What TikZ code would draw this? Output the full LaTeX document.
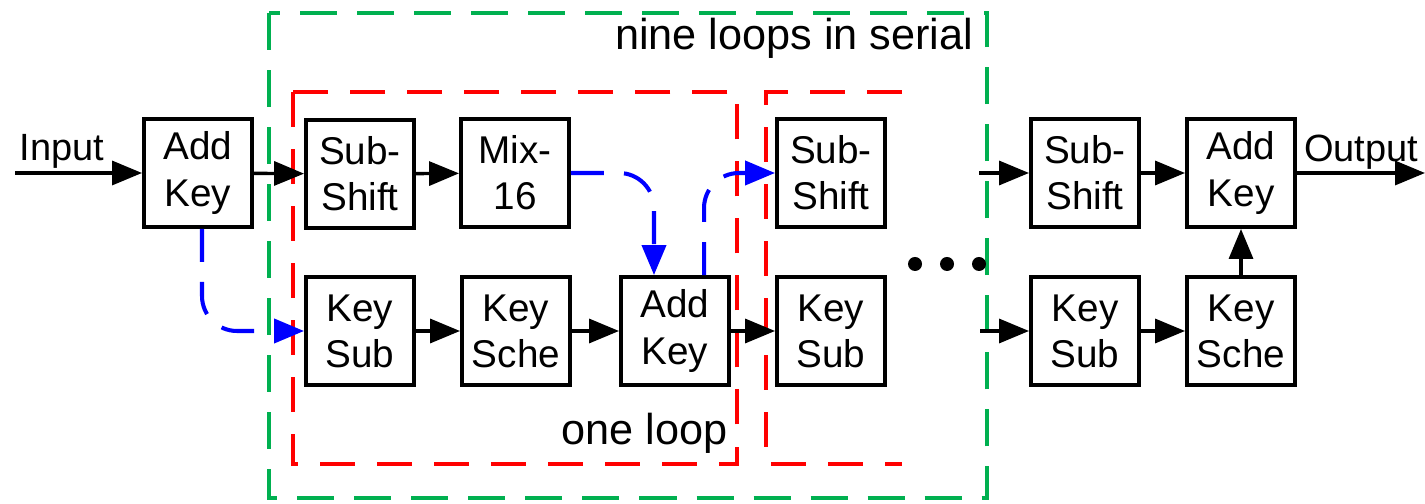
\documentclass[tikz,border=0pt]{standalone}
\usepackage{fontspec}
\setmainfont{Liberation Sans}
\usetikzlibrary{arrows.meta}

\definecolor{sergreen}{RGB}{0,176,80}

\tikzset{
  blk/.style={draw, line width=1.1pt, minimum width=1.08cm, minimum height=1.08cm,
    inner sep=0pt, align=center, font=\fontsize{11}{13.1}\selectfont},
  arr/.style={line width=0.95pt, -{Triangle[length=8.5pt,width=6.8pt]}},
  keyline/.style={arr, blue, line width=1.15pt, dash pattern=on 0.33cm off 0.2cm,
    rounded corners=0.35cm},
  lbl/.style={inner sep=0pt, font=\fontsize{10.8}{13.1}\selectfont},
  biglbl/.style={inner sep=0pt, font=\fontsize{12.3}{14}\selectfont},
  loopbox/.style={red, line width=1.1pt, dash pattern=on 0.35cm off 0.22cm},
  serialbox/.style={sergreen, line width=1.1pt, dash pattern=on 0.37cm off 0.2cm}
}

\begin{document}
\begin{tikzpicture}[x=0.01cm, y=-0.01cm]
  \useasboundingbox (0,0) rectangle (1425,504);

  % frames
  \draw[serialbox] (269,13) rectangle (987,498);
  \draw[loopbox] (293,92) rectangle (737,464);
  \draw[loopbox] (902,92) -- (766,92) -- (766,464) -- (902,464);
  \node[biglbl, anchor=base east] (serial) at (974,50) {nine loops in serial};
  \node[biglbl, anchor=base east] (oneloop) at (728,445) {one loop};

  % blocks
  \node[blk] (ak1) at (198,173) {Add\\Key};
  \node[blk] (ss1) at (360,174) {Sub-\\Shift};
  \node[blk] (mx) at (515,173) {Mix-\\16};
  \node[blk] (ks1) at (360,331) {Key\\Sub};
  \node[blk] (sc1) at (516,331) {Key\\Sche};
  \node[blk] (ak2) at (675,331) {Add\\Key};
  \node[blk] (ss2) at (831,173) {Sub-\\Shift};
  \node[blk] (ks2) at (831,331) {Key\\Sub};
  \node[blk] (ss3) at (1085,173) {Sub-\\Shift};
  \node[blk] (ks3) at (1085,331) {Key\\Sub};
  \node[blk] (ak3) at (1241,173) {Add\\Key};
  \node[blk] (sc3) at (1241,331) {Key\\Sche};

  % free ends
  \coordinate (in) at (15,173);
  \coordinate (out) at (1425,173);
  \coordinate (st1) at (979,173);
  \coordinate (st2) at (980,331);
  \node[lbl, anchor=base] (inlbl) at (62,161) {Input};
  \node[lbl, anchor=base] (outlbl) at (1361,162) {Output};

  % data path
  \draw[arr] (in) -- (ak1);
  \draw[arr] (ak1) -- (ss1);
  \draw[arr] (ss1) -- (mx);
  \draw[arr] (ks1) -- (sc1);
  \draw[arr] (sc1) -- (ak2);
  \draw[arr] (ak2) -- (ks2);
  \draw[arr] (st1) -- (ss3);
  \draw[arr] (st2) -- (ks3);
  \draw[arr] (ss3) -- (ak3);
  \draw[arr] (ks3) -- (sc3);
  \draw[arr] (sc3) -- (ak3);
  \draw[arr] (ak3) -- (out);

  % key paths
  \draw[keyline] ([xshift=0.04cm]ak1.south) |- (ks1.west);
  \draw[keyline] (mx.east) -| ([xshift=-0.21cm]ak2.north);
  \draw[keyline] ([xshift=0.29cm]ak2.north) |- (ss2.west);

  % more loops
  \foreach \x in {915,947,979}
    \fill (\x,264) circle (0.07cm);
\end{tikzpicture}
\end{document}
